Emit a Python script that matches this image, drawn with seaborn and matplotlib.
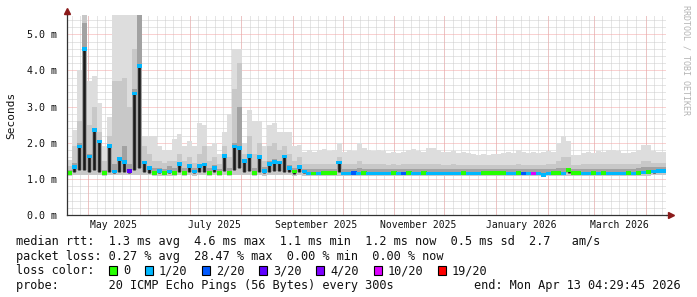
import numpy as np
import pandas as pd
import matplotlib
matplotlib.use("Agg")
import matplotlib.pyplot as plt
from matplotlib.path import Path
from matplotlib.markers import MarkerStyle
from matplotlib.patches import Rectangle
from matplotlib.ticker import MultipleLocator, FixedLocator
import matplotlib.dates as mdates
import seaborn as sns
from datetime import datetime, timedelta

# ---------------- data (3-day steps, 360 days ending at "end") ----------------
START = datetime(2025, 4, 18, 4, 29, 45)
END = datetime(2026, 4, 13, 4, 29, 45)
STEP_DAYS = 3

median_ms = [
    1.16, 1.33, 1.90, 4.60, 1.62, 2.35, 2.03, 1.16, 1.91, 1.20,
    1.55, 1.47, 1.22, 3.36, 4.13, 1.45, 1.30, 1.17, 1.22, 1.16,
    1.20, 1.17, 1.41, 1.17, 1.35, 1.20, 1.36, 1.40, 1.16, 1.30,
    1.17, 1.63, 1.16, 1.90, 1.85, 1.50, 1.64, 1.17, 1.60, 1.22,
    1.42, 1.47, 1.45, 1.62, 1.30, 1.20, 1.32, 1.20, 1.15, 1.15,
    1.15, 1.16, 1.16, 1.16, 1.45, 1.15, 1.15, 1.16, 1.15, 1.16,
    1.15, 1.15, 1.15, 1.15, 1.15, 1.16, 1.15, 1.15, 1.16, 1.15,
    1.15, 1.16, 1.15, 1.15, 1.15, 1.15, 1.15, 1.15, 1.15, 1.16,
    1.15, 1.15, 1.15, 1.16, 1.16, 1.16, 1.16, 1.16, 1.15, 1.15,
    1.16, 1.15, 1.15, 1.15, 1.15, 1.10, 1.15, 1.16, 1.16, 1.15,
    1.25, 1.16, 1.16, 1.15, 1.15, 1.16, 1.15, 1.16, 1.15, 1.15,
    1.15, 1.15, 1.16, 1.15, 1.16, 1.18, 1.19, 1.20, 1.22, 1.21,
]

loss_count = [
    0, 1, 1, 1, 1, 1, 1, 0, 1, 1,
    1, 1, 3, 1, 1, 1, 1, 0, 1, 0,
    1, 0, 1, 0, 1, 1, 1, 1, 0, 1,
    0, 1, 0, 1, 1, 1, 1, 0, 1, 1,
    1, 1, 1, 1, 1, 0, 1, 1, 1, 0,
    1, 0, 0, 0, 1, 1, 1, 2, 1, 0,
    1, 1, 1, 1, 1, 0, 1, 2, 0, 1,
    1, 0, 1, 1, 1, 1, 1, 1, 1, 0,
    1, 1, 1, 0, 0, 0, 0, 0, 1, 1,
    0, 2, 1, 10, 1, 1, 1, 0, 0, 1,
    0, 0, 0, 1, 1, 0, 1, 0, 1, 1,
    1, 1, 0, 1, 0, 1, 0, 1, 1, 1,
]

smoke_min = [
    1.08, 1.10, 1.10, 1.10, 1.10, 1.10, 1.10, 1.08, 1.10, 1.10,
    1.10, 1.10, 1.10, 1.10, 1.12, 1.10, 1.10, 1.08, 1.08, 1.08,
    1.08, 1.08, 1.10, 1.08, 1.10, 1.08, 1.10, 1.10, 1.08, 1.10,
    1.08, 1.10, 1.08, 1.10, 1.10, 1.10, 1.10, 1.08, 1.10, 1.08,
    1.10, 1.10, 1.10, 1.10, 1.10, 1.08, 1.10, 1.08, 1.08, 1.08,
    1.08, 1.08, 1.07, 1.08, 1.09, 1.08, 1.08, 1.07, 1.08, 1.08,
    1.08, 1.08, 1.07, 1.08, 1.08, 1.08, 1.07, 1.08, 1.08, 1.08,
    1.08, 1.08, 1.08, 1.07, 1.08, 1.08, 1.08, 1.08, 1.07, 1.08,
    1.08, 1.08, 1.08, 1.08, 1.08, 1.07, 1.08, 1.08, 1.08, 1.08,
    1.08, 1.07, 1.08, 1.08, 1.08, 1.05, 1.08, 1.08, 1.08, 1.08,
    1.08, 1.08, 1.08, 1.08, 1.07, 1.08, 1.08, 1.08, 1.08, 1.08,
    1.08, 1.08, 1.08, 1.08, 1.08, 1.09, 1.09, 1.10, 1.10, 1.10,
]

smoke_p25 = [
    1.13, 1.20, 1.25, 1.25, 1.20, 1.25, 1.20, 1.13, 1.20, 1.15,
    1.20, 1.20, 1.15, 1.25, 1.30, 1.20, 1.15, 1.13, 1.15, 1.13,
    1.15, 1.13, 1.20, 1.13, 1.18, 1.15, 1.20, 1.20, 1.13, 1.18,
    1.13, 1.22, 1.13, 1.25, 1.30, 1.20, 1.22, 1.13, 1.20, 1.15,
    1.20, 1.22, 1.22, 1.20, 1.18, 1.13, 1.18, 1.15, 1.13, 1.13,
    1.13, 1.13, 1.13, 1.13, 1.18, 1.13, 1.13, 1.13, 1.13, 1.13,
    1.13, 1.13, 1.13, 1.13, 1.13, 1.13, 1.13, 1.13, 1.13, 1.13,
    1.13, 1.13, 1.13, 1.13, 1.13, 1.13, 1.13, 1.13, 1.13, 1.13,
    1.13, 1.13, 1.13, 1.13, 1.13, 1.13, 1.13, 1.13, 1.13, 1.13,
    1.13, 1.13, 1.13, 1.13, 1.13, 1.08, 1.13, 1.13, 1.13, 1.13,
    1.15, 1.13, 1.13, 1.13, 1.13, 1.13, 1.13, 1.13, 1.13, 1.13,
    1.13, 1.13, 1.13, 1.13, 1.13, 1.15, 1.16, 1.17, 1.18, 1.18,
]

smoke_p75 = [
    1.25, 1.45, 2.00, 5.30, 1.70, 2.40, 2.05, 1.25, 1.95, 1.40,
    1.60, 1.90, 1.40, 3.50, 5.54, 1.50, 1.35, 1.30, 1.30, 1.28,
    1.35, 1.30, 1.45, 1.30, 1.40, 1.30, 1.40, 1.45, 1.30, 1.38,
    1.28, 1.70, 1.30, 2.00, 3.00, 1.55, 1.70, 1.30, 1.65, 1.32,
    1.50, 1.55, 1.50, 1.66, 1.38, 1.30, 1.38, 1.28, 1.28, 1.28,
    1.28, 1.28, 1.28, 1.28, 1.50, 1.28, 1.28, 1.28, 1.30, 1.28,
    1.28, 1.28, 1.28, 1.28, 1.27, 1.28, 1.27, 1.28, 1.28, 1.28,
    1.28, 1.28, 1.28, 1.28, 1.28, 1.27, 1.28, 1.28, 1.27, 1.28,
    1.27, 1.27, 1.27, 1.27, 1.27, 1.27, 1.27, 1.27, 1.28, 1.28,
    1.28, 1.28, 1.28, 1.28, 1.28, 1.27, 1.28, 1.28, 1.30, 1.30,
    1.30, 1.27, 1.27, 1.28, 1.28, 1.28, 1.28, 1.28, 1.28, 1.28,
    1.28, 1.28, 1.28, 1.28, 1.30, 1.32, 1.32, 1.32, 1.32, 1.32,
]

smoke_p90 = [
    1.35, 1.90, 2.60, 5.54, 2.50, 3.00, 2.30, 1.50, 2.20, 3.70,
    3.70, 3.80, 3.00, 4.60, 5.54, 1.90, 1.70, 1.50, 1.50, 1.45,
    1.50, 1.50, 1.70, 1.50, 1.60, 1.45, 1.70, 1.90, 1.50, 1.60,
    1.40, 1.90, 1.60, 3.50, 4.20, 1.70, 2.20, 1.70, 2.00, 1.50,
    1.90, 2.00, 1.80, 1.90, 1.70, 1.50, 1.60, 1.40, 1.42, 1.40,
    1.42, 1.42, 1.40, 1.42, 1.60, 1.40, 1.40, 1.40, 1.50, 1.42,
    1.40, 1.40, 1.40, 1.40, 1.38, 1.40, 1.38, 1.40, 1.40, 1.42,
    1.40, 1.40, 1.42, 1.42, 1.40, 1.38, 1.38, 1.40, 1.38, 1.38,
    1.38, 1.38, 1.37, 1.38, 1.37, 1.38, 1.38, 1.38, 1.38, 1.38,
    1.40, 1.38, 1.38, 1.38, 1.38, 1.38, 1.40, 1.40, 1.50, 1.60,
    1.60, 1.38, 1.38, 1.40, 1.40, 1.40, 1.40, 1.40, 1.42, 1.42,
    1.40, 1.40, 1.40, 1.40, 1.42, 1.50, 1.50, 1.45, 1.45, 1.45,
]

smoke_max = [
    1.52, 2.35, 4.00, 5.54, 3.70, 3.85, 3.10, 1.90, 2.70, 5.54,
    5.54, 5.54, 5.54, 5.54, 5.54, 2.20, 2.20, 2.20, 1.90, 1.80,
    1.80, 2.10, 2.25, 1.90, 2.05, 1.90, 2.55, 2.50, 1.90, 2.00,
    1.70, 2.30, 2.80, 4.60, 4.60, 2.00, 2.90, 2.60, 2.60, 1.90,
    2.50, 2.55, 2.30, 2.30, 2.30, 1.90, 1.95, 1.75, 1.80, 1.75,
    1.80, 1.82, 1.78, 1.80, 2.00, 1.75, 1.80, 1.78, 2.00, 1.85,
    1.80, 1.78, 1.80, 1.78, 1.72, 1.75, 1.72, 1.75, 1.80, 1.82,
    1.78, 1.75, 1.85, 1.85, 1.80, 1.75, 1.75, 1.78, 1.72, 1.75,
    1.72, 1.68, 1.66, 1.68, 1.66, 1.70, 1.68, 1.72, 1.75, 1.72,
    1.80, 1.75, 1.72, 1.75, 1.72, 1.75, 1.78, 1.75, 2.00, 2.20,
    2.05, 1.65, 1.65, 1.72, 1.75, 1.72, 1.78, 1.75, 1.80, 1.80,
    1.78, 1.72, 1.72, 1.75, 1.80, 1.94, 1.94, 1.78, 1.75, 1.75,
]

loss_levels = [0, 1, 2, 3, 4, 10, 19]
loss_labels = ["0", "1/20", "2/20", "3/20", "4/20", "10/20", "19/20"]
loss_colors = ["#26ff00", "#00b8ff", "#0059ff", "#5e00ff", "#7e00ff", "#dd00ff", "#ff0000"]

y_ticks = [0, 1, 2, 3, 4, 5]
y_tick_labels = ["0.0 m", "1.0 m", "2.0 m", "3.0 m", "4.0 m", "5.0 m"]
x_label_dates = [datetime(2025, 5, 16), datetime(2025, 7, 16), datetime(2025, 9, 15),
                 datetime(2025, 11, 15), datetime(2026, 1, 16), datetime(2026, 3, 16)]
x_labels = ["May 2025", "July 2025", "September 2025", "November 2025",
            "January 2026", "March 2026"]

legend_rtt = "median rtt:  1.3 ms avg  4.6 ms max  1.1 ms min  1.2 ms now  0.5 ms sd  2.7   am/s"
legend_loss = "packet loss: 0.27 % avg  28.47 % max  0.00 % min  0.00 % now"
legend_color_title = "loss color:"
probe_text = "probe:       20 ICMP Echo Pings (56 Bytes) every 300s"
end_text = "end: Mon Apr 13 04:29:45 2026"
y_title = "Seconds"
watermark = "RRDTOOL / TOBI OETIKER"

# ---------------- figure ----------------
W, H = 697, 297
sns.set_style("white")
MONO = ["DejaVu Sans Mono"]
plt.rcParams["font.family"] = MONO

fig = plt.figure(figsize=(W / 100, H / 100), dpi=100, facecolor="white")
ax = fig.add_axes([67 / W, (H - 215) / H, 599 / W, 200 / H])
ax.set_facecolor("white")

n = len(median_ms)
edges = [START + timedelta(days=STEP_DAYS * i) for i in range(n + 1)]
centers = [START + timedelta(days=STEP_DAYS * i + STEP_DAYS / 2) for i in range(n)]

def ext(a):
    a = np.asarray(a, dtype=float)
    return np.append(a, a[-1])

# smoke bands
ax.fill_between(edges, ext(smoke_min), ext(smoke_max), step="post", color="#dddddd", lw=0, zorder=2)
ax.fill_between(edges, ext(smoke_min), ext(smoke_p90), step="post", color="#c8c8c8", lw=0, zorder=3)
ax.fill_between(edges, ext(smoke_p25), ext(smoke_p75), step="post", color="#a2a2a2", lw=0, zorder=4)
# dark core (thin, as in the rrd smoke)
ax.vlines(centers, smoke_p25, median_ms, colors="#1a1a1a", lw=1.9, zorder=5)

# median coloured by loss
df = pd.DataFrame({
    "time": centers,
    "median": median_ms,
    "loss": [loss_labels[loss_levels.index(v)] for v in loss_count],
})
rect = Path([(-1, -0.7), (1, -0.7), (1, 0.7), (-1, 0.7), (-1, -0.7)],
            [Path.MOVETO, Path.LINETO, Path.LINETO, Path.LINETO, Path.CLOSEPOLY])
sns.scatterplot(data=df, x="time", y="median", hue="loss",
                hue_order=loss_labels, palette=dict(zip(loss_labels, loss_colors)),
                marker=MarkerStyle(rect), s=14, linewidth=0, edgecolor="none",
                legend=False, ax=ax, zorder=6)

# axes limits
ax.set_xlim(START, END)
ax.set_ylim(0, 5.535)
ax.set_xlabel("")
ax.set_ylabel("")

# grid
RED = "#f4a4a4"
GREY = "#cdcdcd"
dash = (0, (1, 1))
ax.yaxis.set_major_locator(FixedLocator(y_ticks))
ax.set_yticklabels(y_tick_labels)
ax.yaxis.set_minor_locator(MultipleLocator(0.2))
ax.grid(which="minor", axis="y", color=GREY, lw=0.72, ls=dash, zorder=0)
ax.grid(which="major", axis="y", color=RED, lw=0.72, ls=dash, zorder=1)
ax.set_axisbelow(True)

minor_days = mdates.DayLocator(bymonthday=[1, 6, 11, 16, 21, 26])
month_days = mdates.MonthLocator()
for d in minor_days.tick_values(START, END):
    ax.axvline(d, color=GREY, lw=0.72, ls=dash, zorder=0)
for d in month_days.tick_values(START, END):
    ax.axvline(d, color=RED, lw=0.72, ls=dash, zorder=1)

ax.set_xticks(x_label_dates)
ax.set_xticklabels(x_labels)

ax.tick_params(axis="x", which="both", length=0, pad=3.5, labelsize=7, labelcolor="#111111")
ax.tick_params(axis="y", which="major", length=3, width=0.7, color="#555555",
               direction="out", pad=4.5, labelsize=7.2, labelcolor="#111111")
ax.tick_params(axis="y", which="minor", length=2, width=0.7, color="#888888", direction="out")

for s in ["top", "right"]:
    ax.spines[s].set_visible(False)
for s in ["left", "bottom"]:
    ax.spines[s].set_color("#333333")
    ax.spines[s].set_linewidth(0.9)
    ax.spines[s].set_zorder(7)

# axis arrows
ARROW = "#8b1a1a"
ax.plot([0, 0], [1, 1.015], transform=ax.transAxes, color="#333333", lw=0.9, clip_on=False, zorder=7)
ax.plot([0], [1.02], marker="^", ms=4.5, color=ARROW, transform=ax.transAxes, clip_on=False, zorder=8)
ax.plot([1, 1.004], [0, 0], transform=ax.transAxes, color="#333333", lw=0.9, clip_on=False, zorder=7)
ax.plot([1.009], [0], marker=">", ms=4.5, color=ARROW, transform=ax.transAxes, clip_on=False, zorder=8)

# titles / texts
def fx(x):
    return x / W

def fy(y):
    return 1 - y / H

fig.text(fx(11), fy(115), y_title, rotation=90, ha="center", va="center",
         fontsize=8, color="#111111")
fig.text(fx(686), fy(5), watermark, rotation=-90, ha="center", va="top",
         fontsize=6, color="#b4b4b4")

LFS = 8.55
CW = 7.14
X0 = 16
fig.text(fx(X0), fy(245), legend_rtt, ha="left", va="baseline", fontsize=LFS, color="#111111")
fig.text(fx(X0), fy(260), legend_loss, ha="left", va="baseline", fontsize=LFS, color="#111111")
fig.text(fx(X0), fy(274), legend_color_title, ha="left", va="baseline", fontsize=LFS, color="#111111")
fig.text(fx(X0), fy(289), probe_text, ha="left", va="baseline", fontsize=LFS, color="#111111")
fig.text(fx(681), fy(289), end_text, ha="right", va="baseline", fontsize=LFS, color="#111111")

col = 13
for lab, colr in zip(loss_labels, loss_colors):
    bx = X0 + col * CW + 0.5
    fig.patches.append(Rectangle((fx(bx), fy(274.5)), 8 / W, 9 / H, transform=fig.transFigure,
                                 facecolor=colr, edgecolor="black", lw=0.8))
    fig.text(fx(X0 + (col + 2) * CW), fy(274), lab, ha="left", va="baseline",
             fontsize=LFS, color="#111111")
    col += 2 + len(lab) + 2

fig.savefig("out.png", dpi=100, facecolor="white")
